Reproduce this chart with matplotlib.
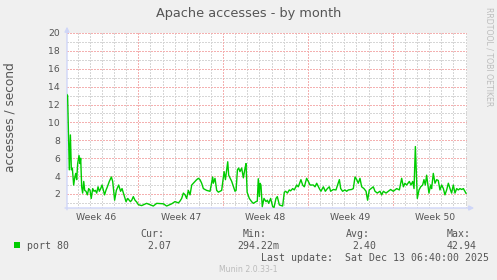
import numpy as np
import matplotlib
matplotlib.use("Agg")
import matplotlib.pyplot as plt
from matplotlib.ticker import FixedLocator
from matplotlib.patches import Rectangle

# --- data (days since left edge, accesses / second) ---
days = [
    0.00, 0.05, 0.19, 0.28, 0.36, 0.44, 0.55, 0.63, 0.72, 0.80, 0.88, 0.99, 1.07, 1.13,
    1.21, 1.29, 1.38, 1.46, 1.57, 1.68, 1.79, 1.90, 2.00, 2.12, 2.23, 2.34, 2.45, 2.56,
    2.67, 2.78, 2.89, 3.00, 3.10, 3.21, 3.33, 3.49, 3.66, 3.77, 3.93, 4.07, 4.26, 4.42,
    4.54, 4.70, 4.87, 5.01, 5.23, 5.34, 5.47, 5.61,
    5.75, 5.89, 6.16, 6.57, 7.12, 7.40, 7.95, 8.22, 8.64, 8.91, 9.19, 9.32, 9.46, 9.60,
    9.74, 9.87, 10.01, 10.15, 10.29, 10.42, 10.56, 10.70, 10.84, 10.97, 11.11, 11.25,
    11.52, 11.80, 12.02, 12.07, 12.21, 12.35, 12.49, 12.62, 12.76, 12.96, 13.07, 13.26,
    13.34, 13.59, 13.86, 13.95, 14.06, 14.16, 14.27, 14.41, 14.55, 14.69, 14.77, 14.86,
    15.04, 15.23, 15.37, 15.59, 15.70, 15.78, 15.87, 15.92, 16.00, 16.11, 16.25, 16.42,
    16.53, 16.64, 16.80, 16.97, 17.08, 17.24, 17.35, 17.52, 17.79, 17.93, 18.04, 18.18,
    18.34, 18.45, 18.62, 18.75, 18.95, 19.08, 19.30, 19.44, 19.58, 19.77, 19.91, 20.05,
    20.32, 20.46, 20.60, 20.82, 20.95, 21.15, 21.31, 21.48, 21.64, 21.75, 21.97, 22.19,
    22.47, 22.58, 22.74, 22.93, 23.07, 23.21, 23.48, 23.62, 23.76, 23.90, 24.03, 24.17,
    24.31, 24.50, 24.67, 24.80, 24.94, 25.08, 25.27, 25.41, 25.60, 25.82, 25.96, 26.10,
    26.32, 26.51, 26.70, 26.92, 27.06, 27.20, 27.42, 27.61, 27.75, 27.88, 28.02, 28.24,
    28.38, 28.52, 28.63, 28.74, 28.90, 29.04, 29.18, 29.34, 29.45, 29.56, 29.67, 29.86,
    30.00, 30.08, 30.22, 30.36, 30.50, 30.63, 30.77, 30.91, 31.05, 31.18, 31.32, 31.46,
    31.60, 31.73, 31.87, 32.01, 32.15, 32.28, 32.42, 32.56, 32.70, 32.83, 32.92,
]
rate = [
    13.1, 13.0, 4.7, 8.6, 4.7, 4.9, 3.0, 3.75, 4.3, 3.6, 5.4, 6.3, 5.4, 6.0,
    2.8, 2.1, 3.4, 2.4, 2.3, 1.9, 2.6, 2.4, 1.5, 2.6, 2.3, 2.4, 2.1, 2.8,
    2.3, 2.6, 3.0, 2.4, 1.9, 2.4, 2.8, 3.4, 3.9, 3.4, 1.3, 2.4, 3.0, 2.3,
    2.6, 1.9, 1.14, 1.5, 1.14, 1.3, 1.7, 1.3,
    1.1, 0.8, 0.7, 0.95, 0.65, 0.95, 0.9, 0.65, 0.9, 1.15, 1.0, 1.2, 1.5, 2.1,
    1.9, 1.5, 2.4, 1.9, 3.0, 3.2, 3.4, 3.6, 3.75, 3.6, 3.2, 2.6,
    2.4, 2.3, 3.9, 3.2, 3.75, 2.4, 2.2, 2.3, 2.4, 4.5, 3.6, 5.6,
    4.1, 3.4, 2.3, 2.4, 4.7, 4.9, 4.5, 4.9, 3.8, 4.9, 5.4, 2.2,
    1.5, 1.14, 0.95, 1.14, 1.2, 3.7, 1.7, 3.2, 3.0, 0.58, 1.5, 1.14,
    1.3, 0.95, 1.5, 0.58, 0.5, 1.5, 1.7, 0.77, 0.65, 2.2, 2.3, 2.1,
    2.45, 2.35, 2.6, 2.45, 3.0, 2.8, 3.6, 3.0, 2.8, 3.75, 3.4, 3.0,
    3.0, 2.8, 3.2, 2.6, 2.3, 2.8, 2.3, 2.6, 2.8, 2.3, 2.5, 2.45,
    3.6, 2.6, 2.3, 2.45, 2.3, 2.45, 2.5, 2.6, 3.9, 3.6, 3.2, 3.75,
    2.8, 2.6, 2.3, 1.3, 2.45, 2.6, 2.8, 2.3, 2.1, 2.3, 1.9, 2.3,
    2.1, 2.3, 2.5, 2.3, 2.45, 2.6, 2.45, 3.75, 2.8, 3.2, 3.0, 3.4,
    3.0, 3.4, 2.6, 7.3, 1.5, 2.45, 2.8, 3.0, 3.6, 3.0, 4.1, 2.1,
    3.0, 2.6, 4.3, 3.2, 3.6, 3.5, 2.45, 3.0, 2.6, 1.9, 2.45, 3.2,
    2.6, 2.1, 3.0, 2.1, 2.6, 2.45, 2.6, 2.5, 2.6, 2.3, 2.07,
]

week_starts = [5.88, 12.88, 19.88, 26.88]
week_mids = [2.38, 9.38, 16.38, 23.38, 30.38]
week_labels = ["Week 46", "Week 47", "Week 48", "Week 49", "Week 50"]
y_ticks = [2, 4, 6, 8, 10, 12, 14, 16, 18, 20]

series_name = "port 80"
stat_heads = ["Cur:", "Min:", "Avg:", "Max:"]
stat_values = ["2.07", "294.22m", "2.40", "42.94"]
last_update = "Last update:  Sat Dec 13 06:40:00 2025"

# --- munin / rrdtool look ---
W, H = 497, 280
BACK = "#F0F0F0"
FONT = "#555555"
AXIS = "#CFD6F8"
GRID = "#D6D6D6"
MGRID = "#F4B0B0"
LINE = "#00CC00"
DOTS = (0, (1, 1))


def fx(x):
    return x / W


def fy(y):
    return 1 - y / H


fig = plt.figure(figsize=(W / 100, H / 100), dpi=100, facecolor=BACK)
ax = fig.add_axes([fx(67), fy(208), 400 / W, 175 / H])
ax.set_facecolor("white")

ax.set_xlim(0, 33)
ax.set_ylim(0.43, 20)

# grid: daily + odd values grey, weeks + even values red
ax.xaxis.set_minor_locator(FixedLocator(np.arange(week_starts[0] % 1, 33, 1.0)))
ax.yaxis.set_minor_locator(FixedLocator(np.arange(1, 20, 2)))
ax.set_yticks(y_ticks)
ax.set_xticks(week_mids, labels=week_labels)
grid_kw = dict(linestyle=DOTS, linewidth=1.0, antialiased=False)
ax.grid(which="minor", color=GRID, **grid_kw)
ax.grid(which="major", axis="y", color=MGRID, **grid_kw)
for ws in week_starts:
    ax.axvline(ws, color=MGRID, zorder=0.6, **grid_kw)
ax.set_axisbelow(True)

ax.plot(days, rate, color=LINE, linewidth=1.0, zorder=3)

for side in ax.spines.values():
    side.set_visible(False)
ax.tick_params(which="both", length=0, colors=FONT, labelsize=6.7)
ax.tick_params(axis="x", pad=3.4)
ax.tick_params(axis="y", pad=5)

# axes with arrows
arrow = dict(arrowstyle="-|>", color=AXIS, lw=1.0, mutation_scale=7, shrinkA=0, shrinkB=0)
ax.annotate("", xy=(1.018, 0), xytext=(-0.005, 0), xycoords="axes fraction",
            arrowprops=arrow, annotation_clip=False, zorder=1)
ax.annotate("", xy=(0, 1.036), xytext=(0, -0.01), xycoords="axes fraction",
            arrowprops=arrow, annotation_clip=False, zorder=1)

# texts
fig.text(fx(248.5), fy(17.3), "Apache accesses - by month", ha="center", va="baseline",
         fontsize=9.3, color=FONT)
fig.text(fx(10), fy(117), "accesses / second", rotation=90, ha="center", va="center",
         fontsize=8.7, color=FONT)
fig.text(fx(489), fy(57), "RRDTOOL / TOBI OETIKER", rotation=270, ha="center",
         va="center", fontsize=5.6, color="#BDBDBD")

mono = dict(family="DejaVu Sans Mono", fontsize=7.1, color=FONT, va="baseline")
head_x = [140, 243, 346, 447]
value_x = [147, 237, 352, 447]
for hx, head in zip(head_x, stat_heads):
    fig.text(fx(hx), fy(237), head, **mono)
for vx, val in zip(value_x, stat_values):
    fig.text(fx(vx), fy(249), val, **mono)
fig.patches.append(Rectangle((fx(14), fy(247.5)), 6 / W, 6 / H, transform=fig.transFigure,
                             facecolor=LINE, edgecolor="none"))
fig.text(fx(26.7), fy(249), series_name, **mono)
fig.text(fx(261), fy(261.3), last_update, **mono)
fig.text(fx(248.5), fy(272.5), "Munin 2.0.33-1", ha="center", va="baseline",
         fontsize=5.6, color="#BBBBBB")

fig.savefig("out.png", dpi=100, facecolor=BACK)
